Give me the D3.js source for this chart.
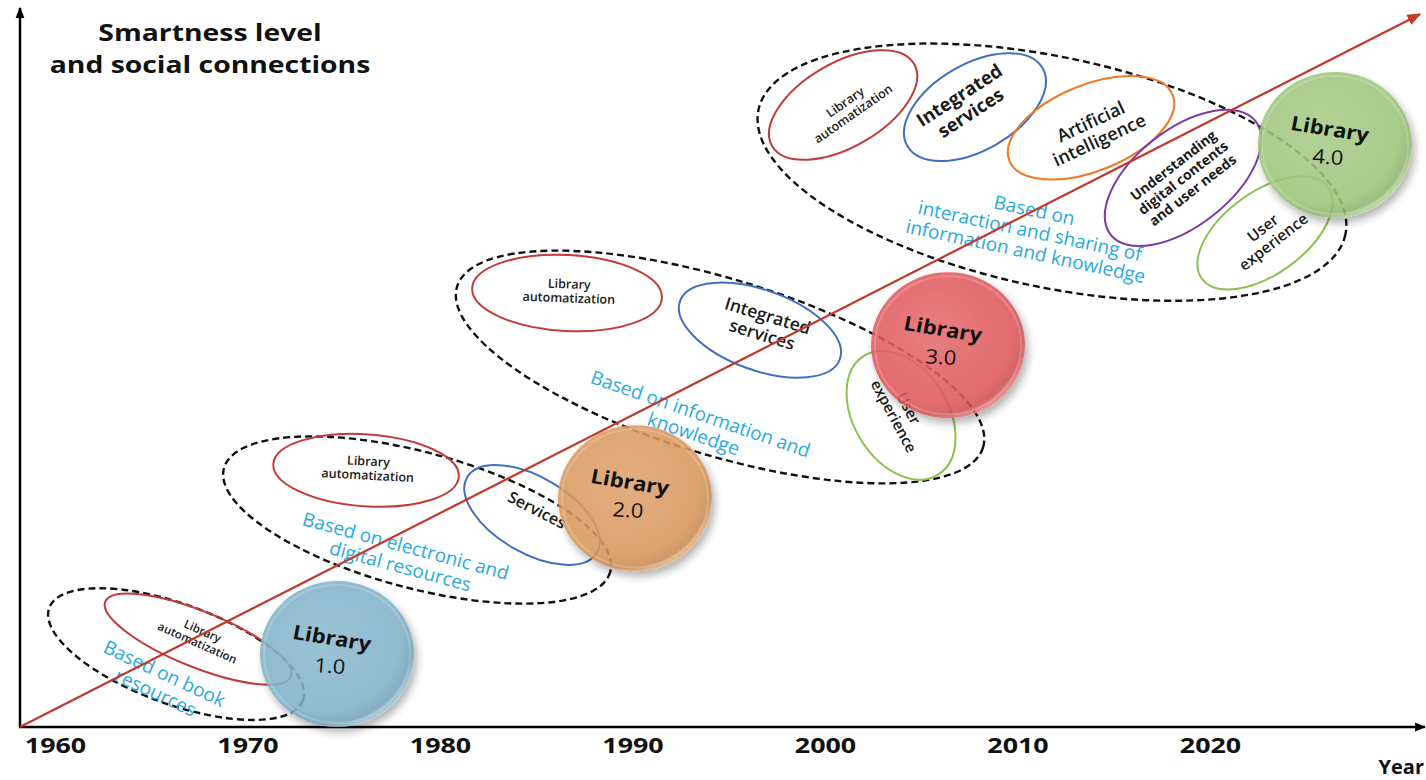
<!DOCTYPE html>
<html>
<head>
<meta charset="utf-8">
<script src="https://cdn.jsdelivr.net/npm/d3@7"></script>
<style>
  html, body { margin: 0; padding: 0; background: #fff; }
  svg { display: block; font-family: "Open Sans", "Noto Sans", sans-serif; }
</style>
</head>
<body>
<div id="chart"></div>
<script>
// timeline ticks
const years = [1960, 1970, 1980, 1990, 2000, 2010, 2020];

// library generations (year / smartness level)
const libVersions = ['1.0', '2.0', '3.0', '4.0'];
const libYears = [1974.65, 1990.13, 2006.39, 2026.49];
const libLevels = [10.2, 32.0, 53.4, 81.4];

// eras (dashed groups) and their captions
const eraYears = [1966.29, 1978.81, 1994.55, 2011.79];
const eraLevels = [10.2, 28.95, 50.35, 77.6];
const eraCaptions = [
  ['Based on book', 'resources'],
  ['Based on electronic and', 'digital resources'],
  ['Based on information and', 'knowledge'],
  ['Based on', 'interaction and sharing of', 'information and knowledge']
];
const captionYears = [1965.45, 1978.08, 1993.35, 2010.65];
const captionLevels = [6.15, 23.9, 42.4, 69.4];

// features inside each era
const featureNames = [
  ['Library', 'automatization'],
  ['Library', 'automatization'], ['Services'],
  ['Library', 'automatization'], ['Integrated', 'services'], ['User', 'experience'],
  ['Library', 'automatization'], ['Integrated', 'services'], ['Artificial', 'intelligence'],
  ['Understanding', 'digital contents', 'and user needs'], ['User', 'experience']
];
const featureKinds = ['automation', 'automation', 'services', 'automation', 'services', 'ux',
  'automation', 'services', 'ai', 'understanding', 'ux'];
const featureYears = [1967.43, 1976.16, 1984.78, 1986.6, 1996.62, 2003.95, 2000.94, 2007.79, 2013.82, 2018.6, 2022.86];
const featureLevels = [12.3, 35.9, 29.65, 60.7, 55.5, 43.6, 87.0, 86.7, 83.8, 76.8, 69.1];

// trend arrow (start / end)
const trendYears = [1958.18, 2030.91];
const trendLevels = [0, 99.7];

// ---- layout / style (not data) ----
const W = 1426, H = 780;
const kindColor = {
  automation: '#c23b3b', services: '#3f6fc1', ux: '#8cc04f', ai: '#ec7a2a', understanding: '#7a3aa8'
};
const libColor = ['#7fb2c8', '#d9975b', '#e0585b', '#9dc57a'];
const eraShape = [
  { rx: 135, ry: 50, rot: 20 }, { rx: 200, ry: 68, rot: 15 },
  { rx: 275, ry: 88, rot: 17 }, { rx: 300, ry: 115, rot: 12 }
];
const captionRot = [25, 15, 19, 12];
const featureShape = [
  { rx: 100, ry: 28, rot: 22, trot: 24, fs: 11.5, dx: 2, dy: -2, fw: 600 },
  { rx: 93, ry: 36, rot: 4, trot: 3, fs: 12.5, dx: 2, dy: -2, fw: 600 },
  { rx: 75, ry: 38, rot: 30, trot: 27, fs: 16, dx: 5, dy: -5, fw: 600 },
  { rx: 95, ry: 38, rot: 3, trot: 2, fs: 12.5, dx: 2, dy: -2, fw: 600 },
  { rx: 85, ry: 40, rot: 20, trot: 17, fs: 17.5, dx: 5, dy: -5, fw: 600 },
  { rx: 70, ry: 47, rot: 58, trot: 62, fs: 15, dx: 0, dy: -3, fw: 600 },
  { rx: 82, ry: 42, rot: -30, trot: -35, fs: 12.5, dx: 6, dy: 3, fw: 600 },
  { rx: 78, ry: 43, rot: -30, trot: -33, fs: 18.5, dx: -10, dy: -3, fw: 700 },
  { rx: 88, ry: 43, rot: -22, trot: -25, fs: 18, dx: 4, dy: 3, fw: 600 },
  { rx: 92, ry: 48, rot: -38, trot: -38, fs: 14, dx: 0, dy: 0, fw: 700 },
  { rx: 78, ry: 41, rot: -36, trot: -38, fs: 15.5, dx: 3, dy: 2, fw: 600 }
];

const x = d3.scaleLinear().domain([1960, 2020]).range([55, 1210]);
const y = d3.scaleLinear().domain([0, 100]).range([727, 12]);

const svg = d3.select('#chart').append('svg').attr('width', W).attr('height', H);
const defs = svg.append('defs');

function arrowMarker(id, color, size) {
  defs.append('marker')
    .attr('id', id).attr('viewBox', '0 0 10 10')
    .attr('refX', 9).attr('refY', 5)
    .attr('markerWidth', size).attr('markerHeight', size)
    .attr('orient', 'auto-start-reverse')
    .attr('markerUnits', 'userSpaceOnUse')
    .append('path').attr('d', 'M0,1 L10,5 L0,9 Z').attr('fill', color);
}
arrowMarker('arrBlack', '#000', 11);
arrowMarker('arrRed', '#c0392b', 14);

const shadow = defs.append('filter').attr('id', 'discShadow')
  .attr('x', '-30%').attr('y', '-30%').attr('width', '160%').attr('height', '160%');
shadow.append('feDropShadow').attr('dx', 3).attr('dy', 5).attr('stdDeviation', 4)
  .attr('flood-color', '#000').attr('flood-opacity', 0.35);

libColor.forEach((c, i) => {
  const g = defs.append('radialGradient').attr('id', 'disc' + i)
    .attr('cx', '42%').attr('cy', '40%').attr('r', '62%');
  g.append('stop').attr('offset', '0%').attr('stop-color', d3.interpolateRgb(c, '#fff')(0.12));
  g.append('stop').attr('offset', '80%').attr('stop-color', c);
  g.append('stop').attr('offset', '93%').attr('stop-color', d3.interpolateRgb(c, '#000')(0.08));
  g.append('stop').attr('offset', '100%').attr('stop-color', d3.interpolateRgb(c, '#fff')(0.25));
});

// axes lines
svg.append('line').attr('x1', 20).attr('y1', y(0)).attr('x2', 20).attr('y2', 8)
  .attr('stroke', '#000').attr('stroke-width', 2.5).attr('marker-end', 'url(#arrBlack)');
svg.append('line').attr('x1', 19).attr('y1', y(0)).attr('x2', 1425).attr('y2', y(0))
  .attr('stroke', '#000').attr('stroke-width', 2.5).attr('marker-end', 'url(#arrBlack)');

// year tick labels
const xAxis = svg.append('g').attr('transform', `translate(0,${y(0)})`)
  .call(d3.axisBottom(x).tickValues(years).tickFormat(d3.format('d')).tickSize(0).tickPadding(10));
xAxis.select('.domain').remove();
xAxis.selectAll('.tick text').attr('font-family', '"Open Sans", sans-serif')
  .attr('font-size', 22).attr('font-weight', 700).attr('fill', '#111')
  .attr('transform', 'scale(1.22,1)');

svg.append('text').attr('x', 1424).attr('y', 774).attr('text-anchor', 'end')
  .attr('font-size', 20).attr('font-weight', 700).attr('fill', '#111').text('Year');

// title
const title = svg.append('g').attr('transform', 'translate(210,0) scale(1.18,1)')
  .append('text').attr('text-anchor', 'middle')
  .attr('font-size', 24).attr('font-weight', 700).attr('fill', '#111');
title.append('tspan').attr('x', 0).attr('y', 41).text('Smartness level');
title.append('tspan').attr('x', 0).attr('y', 73).text('and social connections');

function block(g, cx, cy, rot, lines, size, lh, opts) {
  const sx = opts.sx || 1;
  const t = g.append('text')
    .attr('transform', `translate(${cx},${cy}) scale(${sx},1) rotate(${rot})`)
    .attr('text-anchor', 'middle')
    .attr('font-size', size)
    .attr('font-weight', opts.weight || 400)
    .attr('fill', opts.fill || '#111');
  lines.forEach((l, i) => {
    t.append('tspan').attr('x', 0).attr('y', (i - (lines.length - 1) / 2) * lh)
      .attr('dy', '0.35em').text(l);
  });
  return t;
}

// dashed era groups
const eras = svg.append('g');
eraYears.forEach((yr, i) => {
  const s = eraShape[i];
  eras.append('ellipse')
    .attr('transform', `translate(${x(yr)},${y(eraLevels[i])}) rotate(${s.rot})`)
    .attr('rx', s.rx).attr('ry', s.ry)
    .attr('fill', 'none').attr('stroke', '#111').attr('stroke-width', 2.4)
    .attr('stroke-dasharray', '7,4');
});

// feature ellipses + labels
const feats = svg.append('g');
featureYears.forEach((yr, i) => {
  const s = featureShape[i];
  const cx = x(yr), cy = y(featureLevels[i]);
  feats.append('ellipse')
    .attr('transform', `translate(${cx},${cy}) rotate(${s.rot})`)
    .attr('rx', s.rx).attr('ry', s.ry)
    .attr('fill', 'none').attr('stroke', kindColor[featureKinds[i]]).attr('stroke-width', 2);
  block(feats, cx + s.dx, cy + s.dy, s.trot, featureNames[i], s.fs, s.fs * 1.12, { weight: s.fw, fill: '#1a1a1a' });
});

// era captions
captionYears.forEach((yr, i) => {
  block(svg, x(yr), y(captionLevels[i]), captionRot[i], eraCaptions[i], 19, 21, { fill: '#29a9e0', weight: 500 });
});

// trend arrow
svg.append('line')
  .attr('x1', x(trendYears[0])).attr('y1', y(trendLevels[0]))
  .attr('x2', x(trendYears[1])).attr('y2', y(trendLevels[1]))
  .attr('stroke', '#c0392b').attr('stroke-width', 2.2).attr('marker-end', 'url(#arrRed)');

// library discs
const discs = svg.append('g');
libYears.forEach((yr, i) => {
  const cx = x(yr), cy = y(libLevels[i]);
  const g = discs.append('g').attr('transform', `translate(${cx},${cy})`);
  g.append('ellipse').attr('rx', 77).attr('ry', 73)
    .attr('fill', `url(#disc${i})`).attr('opacity', 0.88)
    .attr('filter', 'url(#discShadow)');
  g.append('ellipse').attr('rx', 73).attr('ry', 69)
    .attr('fill', 'none').attr('stroke', '#fff').attr('stroke-opacity', 0.18).attr('stroke-width', 2);
  g.append('text').attr('transform', 'translate(-5,-16) scale(1.1,1) rotate(10)')
    .attr('text-anchor', 'middle').attr('dy', '0.35em')
    .attr('font-size', 20).attr('font-weight', 700).attr('fill', '#111').text('Library');
  g.append('text').attr('transform', 'translate(-7,12) scale(1.1,1) rotate(4)')
    .attr('text-anchor', 'middle').attr('dy', '0.35em')
    .attr('font-size', 20).attr('fill', '#111').text(libVersions[i]);
});
</script>
</body>
</html>
